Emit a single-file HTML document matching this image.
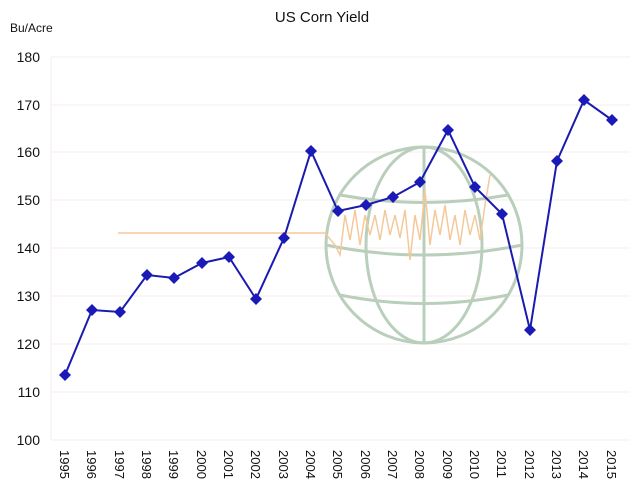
<!DOCTYPE html>
<html><head><style>
body{margin:0;background:#fff;}
svg text{font-family:"Liberation Sans",sans-serif;}
</style></head><body>
<svg width="644" height="490" xmlns="http://www.w3.org/2000/svg">
<rect width="644" height="490" fill="#fff"/>
<text x="322" y="22" font-size="15" text-anchor="middle" fill="#111">US Corn Yield</text>
<text x="10" y="32" font-size="12" fill="#111">Bu/Acre</text>
<g stroke="#f6eeee" stroke-width="1">
<line x1="51" y1="57" x2="630" y2="57"/><line x1="51" y1="105" x2="630" y2="105"/>
<line x1="51" y1="152" x2="630" y2="152"/><line x1="51" y1="200" x2="630" y2="200"/>
<line x1="51" y1="248" x2="630" y2="248"/><line x1="51" y1="296" x2="630" y2="296"/>
<line x1="51" y1="344" x2="630" y2="344"/><line x1="51" y1="392" x2="630" y2="392"/>
<line x1="51" y1="440" x2="630" y2="440"/><line x1="51" y1="57" x2="51" y2="440"/>
</g>
<g font-size="14" text-anchor="end" fill="#111">
<text x="40" y="62">180</text><text x="40" y="110">170</text><text x="40" y="157">160</text>
<text x="40" y="205">150</text><text x="40" y="253">140</text><text x="40" y="301">130</text>
<text x="40" y="349">120</text><text x="40" y="397">110</text><text x="40" y="445">100</text>
</g>
<g stroke="#b9cfbb" stroke-width="3" fill="none">
<circle cx="424" cy="245" r="98"/>
<line x1="424" y1="147" x2="424" y2="343"/>
<path d="M326 245 Q424 265 522 245"/>
<path d="M340 195 Q424 210 508 195 M340 295 Q424 312 508 295"/>
<ellipse cx="424" cy="245" rx="58" ry="98"/>
</g>
<polyline fill="none" stroke="#f5c89a" stroke-width="1.5" points="118,233 325,233 335,245 340,255 345,215 350,240 355,210 360,245 365,215 370,235 375,215 380,240 385,210 390,235 395,215 400,238 405,210 410,260 415,215 420,240 425,190 430,245 435,210 440,235 445,205 450,240 455,215 460,245 465,210 470,235 475,215 480,240 485,205 490,175"/>
<polyline fill="none" stroke="#1a1ab0" stroke-width="2" points="65,375 92,310 120,312 147,275 174,278 202,263 229,257 256,299 284,238 311,151 338,211 366,205 393,197 420,182 448,130 475,187 502,214 530,330 557,161 584,100 612,120"/>
<g fill="#1a1ab8">
<path d="M65 369l6 6-6 6-6-6z"/><path d="M92 304l6 6-6 6-6-6z"/><path d="M120 306l6 6-6 6-6-6z"/>
<path d="M147 269l6 6-6 6-6-6z"/><path d="M174 272l6 6-6 6-6-6z"/><path d="M202 257l6 6-6 6-6-6z"/>
<path d="M229 251l6 6-6 6-6-6z"/><path d="M256 293l6 6-6 6-6-6z"/><path d="M284 232l6 6-6 6-6-6z"/>
<path d="M311 145l6 6-6 6-6-6z"/><path d="M338 205l6 6-6 6-6-6z"/><path d="M366 199l6 6-6 6-6-6z"/>
<path d="M393 191l6 6-6 6-6-6z"/><path d="M420 176l6 6-6 6-6-6z"/><path d="M448 124l6 6-6 6-6-6z"/>
<path d="M475 181l6 6-6 6-6-6z"/><path d="M502 208l6 6-6 6-6-6z"/><path d="M530 324l6 6-6 6-6-6z"/>
<path d="M557 155l6 6-6 6-6-6z"/><path d="M584 94l6 6-6 6-6-6z"/><path d="M612 114l6 6-6 6-6-6z"/>
</g>
<g font-size="13" fill="#111">
<text transform="translate(60,450) rotate(90)">1995</text><text transform="translate(87,450) rotate(90)">1996</text>
<text transform="translate(115,450) rotate(90)">1997</text><text transform="translate(142,450) rotate(90)">1998</text>
<text transform="translate(169,450) rotate(90)">1999</text><text transform="translate(197,450) rotate(90)">2000</text>
<text transform="translate(224,450) rotate(90)">2001</text><text transform="translate(251,450) rotate(90)">2002</text>
<text transform="translate(279,450) rotate(90)">2003</text><text transform="translate(306,450) rotate(90)">2004</text>
<text transform="translate(333,450) rotate(90)">2005</text><text transform="translate(361,450) rotate(90)">2006</text>
<text transform="translate(388,450) rotate(90)">2007</text><text transform="translate(415,450) rotate(90)">2008</text>
<text transform="translate(443,450) rotate(90)">2009</text><text transform="translate(470,450) rotate(90)">2010</text>
<text transform="translate(497,450) rotate(90)">2011</text><text transform="translate(525,450) rotate(90)">2012</text>
<text transform="translate(552,450) rotate(90)">2013</text><text transform="translate(579,450) rotate(90)">2014</text>
<text transform="translate(607,450) rotate(90)">2015</text>
</g>
</svg>
</body></html>
